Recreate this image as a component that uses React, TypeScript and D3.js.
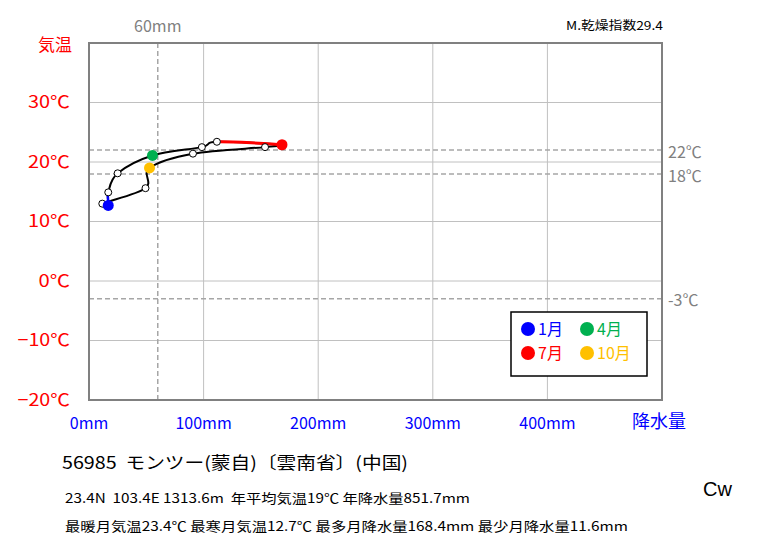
import React from "react";
import * as d3 from "d3";

const months = ["1月", "2月", "3月", "4月", "5月", "6月", "7月", "8月", "9月", "10月", "11月", "12月"];
const precip = [16.8, 16.8, 25.0, 55.4, 98.5, 111.6, 168.4, 153.6, 90.7, 52.8, 49.3, 11.6];
const temps = [12.7, 14.9, 18.1, 21.1, 22.5, 23.4, 22.9, 22.5, 21.4, 19.0, 15.6, 13.0];
const tempTicks = [30, 20, 10, 0, -10, -20];
const precipTicks = [0, 100, 200, 300, 400];
const refTemps = [22, 18, -3];
const refPrecip = 60;
const legendItems = [
  { m: 0, label: "1月", color: "#0000ff" },
  { m: 3, label: "4月", color: "#00b050" },
  { m: 6, label: "7月", color: "#ff0000" },
  { m: 9, label: "10月", color: "#ffc000" },
];
const title = "56985\u00a0\u00a0モンツー(蒙自)〔雲南省〕(中国)";
const info1 = "23.4N\u00a0\u00a0103.4E 1313.6m\u00a0\u00a0年平均気温19℃ 年降水量851.7mm";
const info2 = "最暖月気温23.4℃ 最寒月気温12.7℃ 最多月降水量168.4mm 最少月降水量11.6mm";
const aridity = "M.乾燥指数29.4";
const climate = "Cw";

const L = 89, R = 662, T = 43, B = 400;
const x = d3.scaleLinear().domain([0, 500]).range([L, R]);
const y = d3.scaleLinear().domain([-20, 40]).range([B, T]);
const JP = "'Noto Sans CJK JP', 'Noto Sans', sans-serif";

function segPath(pts: [number, number][], i: number) {
  const n = pts.length;
  const p0 = pts[(i - 1 + n) % n], p1 = pts[i], p2 = pts[(i + 1) % n], p3 = pts[(i + 2) % n];
  const c1 = [p1[0] + (p2[0] - p0[0]) / 6, p1[1] + (p2[1] - p0[1]) / 6];
  const c2 = [p2[0] - (p3[0] - p1[0]) / 6, p2[1] - (p3[1] - p1[1]) / 6];
  return `M${p1[0]},${p1[1]}C${c1[0]},${c1[1]} ${c2[0]},${c2[1]} ${p2[0]},${p2[1]}`;
}

export default function App() {
  const pts: [number, number][] = precip.map((p, i) => [x(p), y(temps[i])]);
  const loop = d3.line().curve(d3.curveCardinalClosed.tension(0))(pts) || "";
  const colorOf: Record<number, string> = {};
  legendItems.forEach((d) => (colorOf[d.m] = d.color));
  return (
    <div style={{ position: "absolute", left: 0, top: 0 }}>
      <svg width={763} height={545} style={{ display: "block", background: "#fff" }}>
        {/* gridlines */}
        {tempTicks.filter((t) => t > -20).map((t) => (
          <line key={"gy" + t} x1={L} x2={R} y1={y(t)} y2={y(t)} stroke="#c0c0c0" strokeWidth={1} />
        ))}
        {precipTicks.filter((t) => t > 0).map((t) => (
          <line key={"gx" + t} x1={x(t)} x2={x(t)} y1={T} y2={B} stroke="#c0c0c0" strokeWidth={1} />
        ))}
        {/* reference dashed lines */}
        {refTemps.map((t) => (
          <line key={"rt" + t} x1={L} x2={R} y1={y(t)} y2={y(t)} stroke="#a6a6a6" strokeWidth={1.5} strokeDasharray="5,3" />
        ))}
        <line x1={x(refPrecip)} x2={x(refPrecip)} y1={T} y2={B} stroke="#a6a6a6" strokeWidth={1.5} strokeDasharray="5,3" />
        {/* border */}
        <rect x={L} y={T} width={R - L} height={B - T} fill="none" stroke="#808080" strokeWidth={2} />
        {/* loop */}
        <path d={loop} fill="none" stroke="#000" strokeWidth={2} />
        <path d={segPath(pts, 0)} fill="none" stroke="#0000ff" strokeWidth={2.5} />
        <path d={segPath(pts, 5)} fill="none" stroke="#ff0000" strokeWidth={3} />
        {pts.map((p, i) =>
          colorOf[i] ? null : (
            <circle key={"w" + i} cx={p[0]} cy={p[1]} r={3.5} fill="#fff" stroke="#000" strokeWidth={1} />
          )
        )}
        {legendItems.map((d) => (
          <circle key={"c" + d.m} cx={pts[d.m][0]} cy={pts[d.m][1]} r={5.5} fill={d.color} />
        ))}
        {/* y axis labels */}
        <text x={72} y={51} textAnchor="end" fill="#ff0000" fontFamily={JP} fontSize={17}>気温</text>
        {tempTicks.map((t) => {
          const s = (t < 0 ? "−" : "") + Math.abs(t);
          return (
            <text key={"ty" + t} x={70} y={y(t)} dy="0.35em" textAnchor="end" fill="#ff0000" fontFamily={JP} fontSize={17}
              textLength={21 + 10.5 * s.length} lengthAdjust="spacingAndGlyphs">
              {s}℃
            </text>
          );
        })}
        {/* x axis labels */}
        {precipTicks.map((t) => (
          <text key={"tx" + t} x={x(t)} y={423} dy="0.35em" textAnchor="middle" fill="#0000ff" fontFamily={JP} fontSize={16}>
            {t}mm
          </text>
        ))}
        <text x={632} y={422} dy="0.35em" fill="#0000ff" fontFamily={JP} fontSize={18}>降水量</text>
        {/* reference labels */}
        <text x={x(refPrecip)} y={26} dy="0.35em" textAnchor="middle" fill="#808080" fontFamily={JP} fontSize={16}>
          {refPrecip}mm
        </text>
        {refTemps.map((t) => (
          <text key={"rl" + t} x={668} y={y(t) + 2} dy="0.35em" fill="#808080" fontFamily={JP} fontSize={16}>
            {t}℃
          </text>
        ))}
        <text x={566} y={26} dy="0.35em" fill="#000" fontFamily={JP} fontSize={12} textLength={97} lengthAdjust="spacingAndGlyphs">
          {aridity}
        </text>
        {/* legend */}
        <rect x={511} y={312} width={136} height={64} fill="#fff" stroke="#000" strokeWidth={1.5} />
        {legendItems.map((d, k) => {
          const cx = 528 + (k % 2) * 59;
          const cy = 329 + Math.floor(k / 2) * 24;
          return (
            <g key={"lg" + d.m}>
              <circle cx={cx} cy={cy} r={7} fill={d.color} />
              <text x={cx + 10} y={cy} dy="0.35em" fill={d.color} fontFamily={JP} fontSize={16}>
                {d.label}
              </text>
            </g>
          );
        })}
        {/* bottom info */}
        <text x={62} y={463} dy="0.35em" fill="#000" fontFamily={JP} fontSize={17} textLength={346} lengthAdjust="spacingAndGlyphs">
          {title}
        </text>
        <text x={65} y={498} dy="0.35em" fill="#000" fontFamily={JP} fontSize={13} textLength={405} lengthAdjust="spacingAndGlyphs">
          {info1}
        </text>
        <text x={65} y={526} dy="0.35em" fill="#000" fontFamily={JP} fontSize={13} textLength={563} lengthAdjust="spacingAndGlyphs">
          {info2}
        </text>
        <text x={703} y={489} dy="0.35em" fill="#000" fontFamily="'Liberation Sans', Arial, sans-serif" fontSize={20}>
          {climate}
        </text>
      </svg>
    </div>
  );
}
